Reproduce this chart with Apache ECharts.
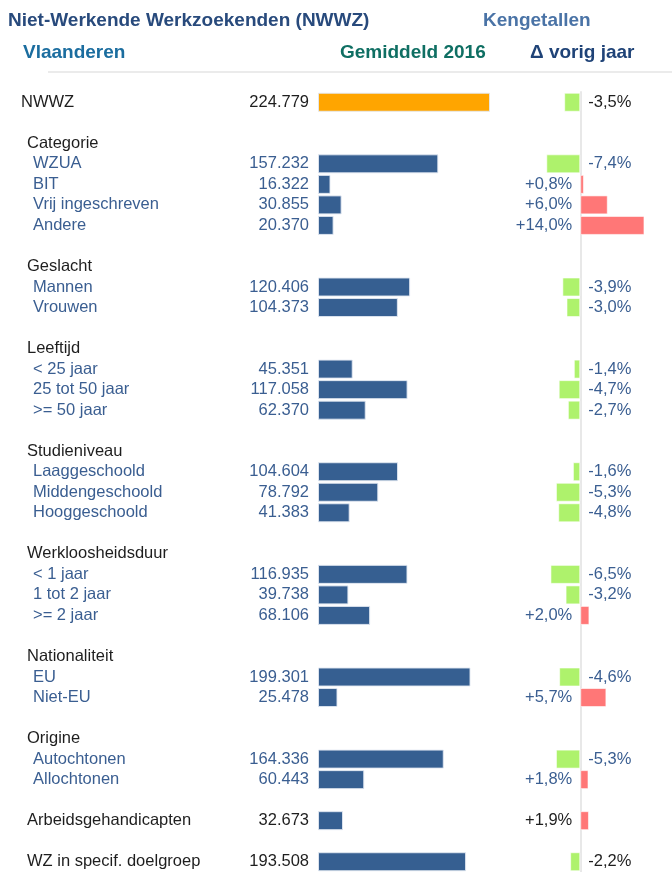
<!DOCTYPE html>
<html>
<head>
<meta charset="utf-8">
<title>NWWZ Kengetallen</title>
<script src="https://cdn.jsdelivr.net/npm/echarts@6/dist/echarts.min.js"></script>
<style>
  html, body { margin: 0; padding: 0; background: #ffffff; }
  #chart { width: 672px; height: 872px; }
</style>
</head>
<body>
<div id="chart"></div>
<script>
// rijen van boven naar onder ('' = lege tussenrij)
var rowLabels = [
  "NWWZ", "",
  "Categorie", "WZUA", "BIT", "Vrij ingeschreven", "Andere", "",
  "Geslacht", "Mannen", "Vrouwen", "",
  "Leeftijd", "< 25 jaar", "25 tot 50 jaar", ">= 50 jaar", "",
  "Studieniveau", "Laaggeschoold", "Middengeschoold", "Hooggeschoold", "",
  "Werkloosheidsduur", "< 1 jaar", "1 tot 2 jaar", ">= 2 jaar", "",
  "Nationaliteit", "EU", "Niet-EU", "",
  "Origine", "Autochtonen", "Allochtonen", "",
  "Arbeidsgehandicapten", "",
  "WZ in specif. doelgroep"
];
// top = totaal, head = groepstitel, sub = onderdeel, main = losse rij
var rowTypes = [
  "top", "",
  "head", "sub", "sub", "sub", "sub", "",
  "head", "sub", "sub", "",
  "head", "sub", "sub", "sub", "",
  "head", "sub", "sub", "sub", "",
  "head", "sub", "sub", "sub", "",
  "head", "sub", "sub", "",
  "head", "sub", "sub", "",
  "main", "",
  "main"
];
// gemiddeld 2016
var gemiddeld = [
  224779, null,
  null, 157232, 16322, 30855, 20370, null,
  null, 120406, 104373, null,
  null, 45351, 117058, 62370, null,
  null, 104604, 78792, 41383, null,
  null, 116935, 39738, 68106, null,
  null, 199301, 25478, null,
  null, 164336, 60443, null,
  32673, null,
  193508
];
// verschil t.o.v. vorig jaar (%)
var vorigJaar = [
  -3.5, null,
  null, -7.4, 0.8, 6.0, 14.0, null,
  null, -3.9, -3.0, null,
  null, -1.4, -4.7, -2.7, null,
  null, -1.6, -5.3, -4.8, null,
  null, -6.5, -3.2, 2.0, null,
  null, -4.6, 5.7, null,
  null, -5.3, 1.8, null,
  1.9, null,
  -2.2
];

var FONT = "'Liberation Sans', Arial, sans-serif";
var BLUE_TXT = "#3a5e91";
var DARK_TXT = "#1e1e1e";

function txtColor(i) {
  return rowTypes[i] === "sub" ? BLUE_TXT : DARK_TXT;
}
function fmtNum(v) {
  return String(v).replace(/\B(?=(\d{3})+(?!\d))/g, ".");
}
function fmtPct(v) {
  return (v > 0 ? "+" : "") + v.toFixed(1).replace(".", ",") + "%";
}

var cats = rowLabels.map(function (l, i) { return "r" + i; });

var barData = gemiddeld.map(function (v, i) {
  return {
    value: v,
    itemStyle: { color: rowTypes[i] === "top" ? "#ffa500" : "#365f91" },
    label: { color: txtColor(i) }
  };
});
var deltaData = vorigJaar.map(function (v, i) {
  return {
    value: v,
    itemStyle: { color: v > 0 ? "#ff7777" : "#aef26c" },
    label: { color: txtColor(i), position: v > 0 ? "left" : "right" }
  };
});

var titleStyle = function (color) {
  return { fontFamily: FONT, fontSize: 19, fontWeight: "bold", color: color };
};

var myChart = echarts.init(document.getElementById("chart"), null, { renderer: "canvas" });
var option = {
  backgroundColor: "#ffffff",
  animation: false,
  textStyle: { fontFamily: FONT },
  title: [
    { text: "Niet-Werkende Werkzoekenden (NWWZ)", left: 8, top: 11, padding: 0, textStyle: titleStyle("#284a7c") },
    { text: "Kengetallen", left: 483, top: 11, padding: 0, textStyle: titleStyle("#4a73a6") },
    { text: "Vlaanderen", left: 23, top: 43, padding: 0, textStyle: titleStyle("#1b6d9f") },
    { text: "Gemiddeld 2016", left: 340, top: 43, padding: 0, textStyle: titleStyle("#0f6f63") },
    { text: "\u0394 vorig jaar", left: 530, top: 43, padding: 0, textStyle: titleStyle("#1f4377") }
  ],
  graphic: [
    { type: "line", shape: { x1: 48, y1: 72, x2: 672, y2: 72 },
      style: { stroke: "#e4e4e4", lineWidth: 1.5 } }
  ],
  grid: [
    { left: 318, top: 92, width: 176, height: 780.5 },
    { left: 488.5, top: 92, width: 188, height: 780.5 }
  ],
  xAxis: [
    { gridIndex: 0, type: "value", min: 0, max: 230000, show: false },
    { gridIndex: 1, type: "value", min: -20, max: 20, show: false }
  ],
  yAxis: [
    {
      gridIndex: 0, type: "category", inverse: true, data: cats,
      axisLine: { show: false }, axisTick: { show: false }, splitLine: { show: false },
      axisLabel: {
        interval: 0, align: "left", margin: 297,
        formatter: function (v, i) {
          var t = rowTypes[i], l = rowLabels[i];
          if (!l) return "";
          if (t === "top") return "{n|" + l + "}";
          if (t === "sub") return "{s|" + l + "}";
          return "{h|" + l + "}";
        },
        rich: {
          n: { fontFamily: FONT, fontSize: 16.5, color: DARK_TXT },
          h: { fontFamily: FONT, fontSize: 16.5, color: DARK_TXT, padding: [0, 0, 0, 6] },
          s: { fontFamily: FONT, fontSize: 16.5, color: BLUE_TXT, padding: [0, 0, 0, 12] }
        }
      }
    },
    {
      gridIndex: 1, type: "category", inverse: true, data: cats,
      axisLine: { show: true, onZero: true, lineStyle: { color: "#e8e8e8", width: 2 } },
      axisTick: { show: false }, axisLabel: { show: false }, splitLine: { show: false }
    }
  ],
  series: [
    {
      name: "Gemiddeld 2016", type: "bar", xAxisIndex: 0, yAxisIndex: 0,
      barWidth: 19,
      itemStyle: { borderColor: "rgba(225,232,242,0.9)", borderWidth: 1 },
      label: {
        show: true, position: "left", distance: 9,
        fontFamily: FONT, fontSize: 16.5,
        formatter: function (p) { return fmtNum(p.value); }
      },
      data: barData
    },
    {
      name: "\u0394 vorig jaar", type: "bar", xAxisIndex: 1, yAxisIndex: 1,
      barWidth: 19,
      itemStyle: { borderColor: "rgba(255,255,255,0.6)", borderWidth: 1 },
      label: {
        show: true, distance: 8,
        fontFamily: FONT, fontSize: 16.5,
        formatter: function (p) { return fmtPct(p.value); }
      },
      data: deltaData
    }
  ]
};
myChart.setOption(option);
window.onresize = function () {
  myChart.resize();
};
</script>
</body>
</html>
